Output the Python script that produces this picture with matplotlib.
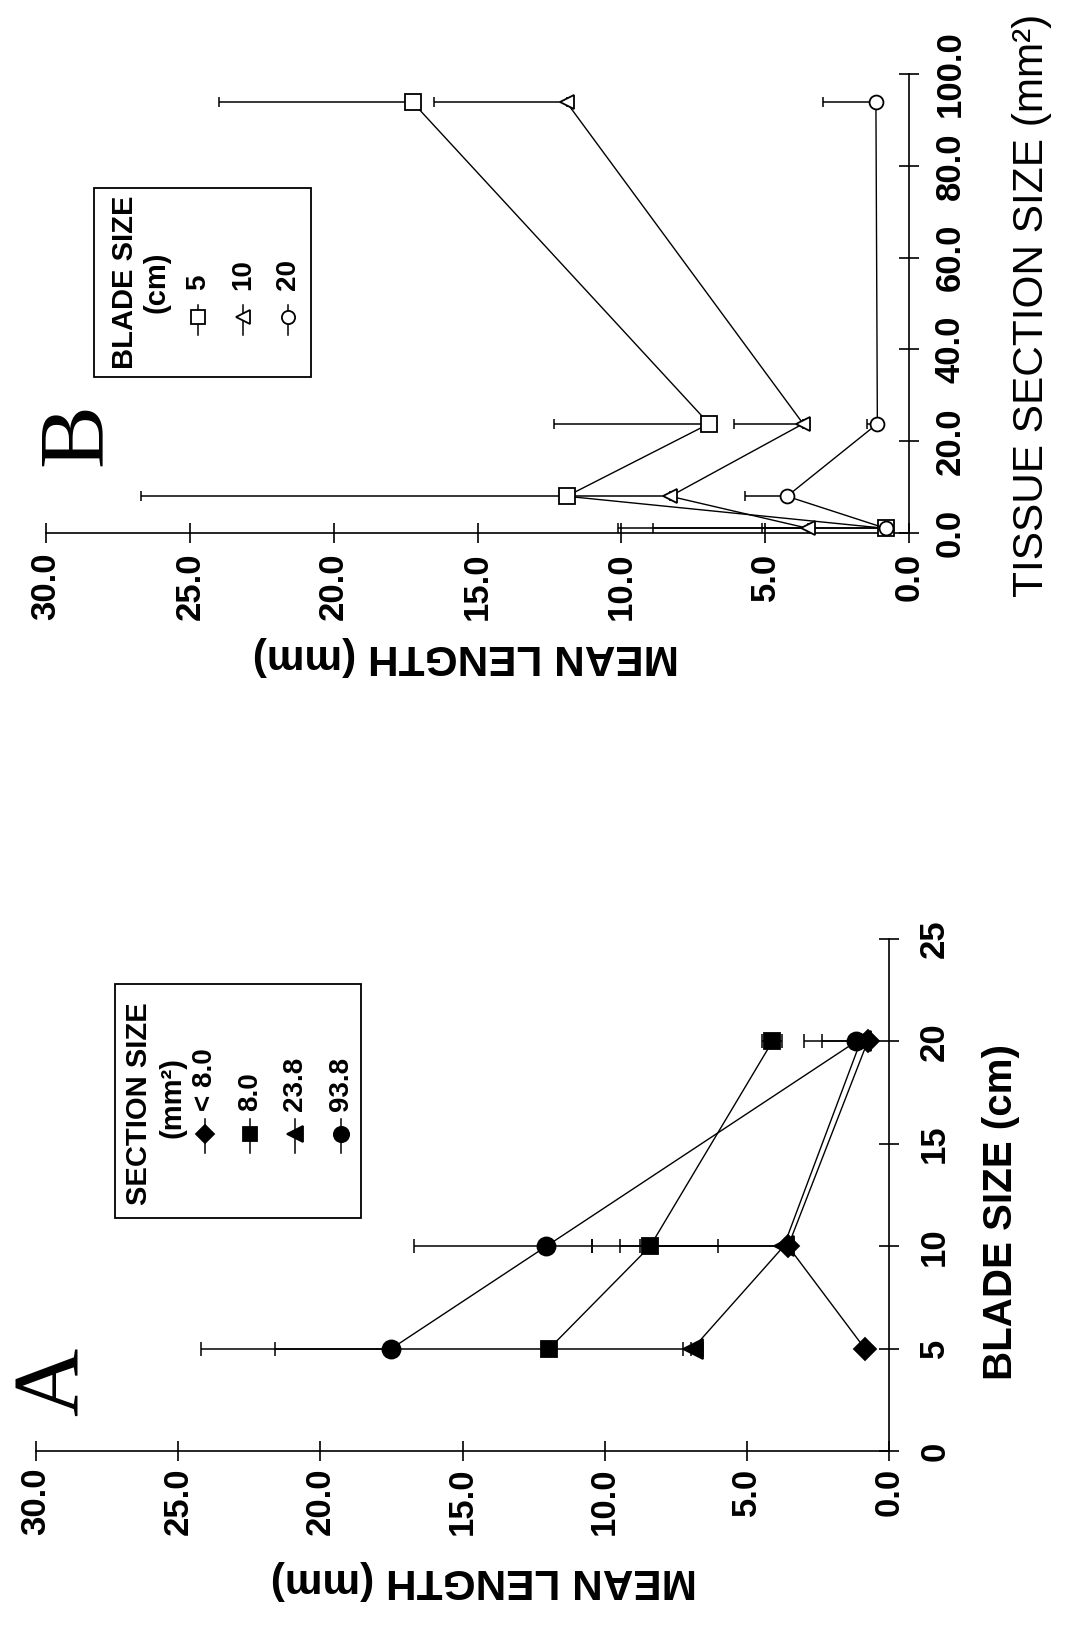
import numpy as np
import matplotlib.pyplot as plt
from matplotlib.lines import Line2D
from matplotlib.patches import Rectangle

plt.rcParams['font.family'] = ['Liberation Sans', 'DejaVu Sans']

W, H = 1067, 1625

# --- panel A: mean length vs blade size, one series per section size (mm2)
blade_size = [5, 10, 20]
sec_lt8 = [0.85, 3.55, 0.75]
sec_lt8_lo = [0, 0, 0]
sec_lt8_hi = [0, 5.2, 0]
sec_8 = [11.95, 8.4, 4.1]
sec_8_lo = [5.0, 2.4, 0.35]
sec_8_hi = [9.65, 2.05, 0.35]
sec_23 = [6.9, 3.7, 1.0]
sec_23_lo = [0.35, 0, 0]
sec_23_hi = [0.35, 5.76, 1.35]
sec_93 = [17.5, 12.05, 1.15]
sec_93_lo = [0, 1.6, 0]
sec_93_hi = [6.7, 4.65, 1.85]
sec_labels = ['< 8.0', '8.0', '23.8', '93.8']

# --- panel B: mean length vs tissue section size, one series per blade size (cm)
tissue_size = [1.0, 8.0, 23.8, 93.8]
bl_5 = [0.8, 11.9, 6.95, 17.25]
bl_5_hi = [9.3, 14.8, 5.4, 6.75]
bl_10 = [3.5, 8.3, 3.68, 11.9]
bl_10_hi = [5.4, 3.6, 2.4, 4.6]
bl_20 = [0.8, 4.24, 1.1, 1.15]
bl_20_hi = [4.3, 1.45, 0.35, 1.85]
bl_labels = ['5', '10', '20']

ml_ticks = [30, 25, 20, 15, 10, 5, 0]
blade_ticks = [0, 5, 10, 15, 20, 25]
tissue_ticks = [0, 20, 40, 60, 80, 100]


def fx(px):
    return px / W


def fy(py):
    return 1 - py / H


def setup_axes(ax, ylim, yticks, ylabels, xpad, ypad):
    # page is turned: mean length runs right->left, the other axis runs upward
    ax.set_xlim(30, 0)
    ax.set_ylim(*ylim)
    ax.spines['top'].set_visible(False)
    ax.spines['left'].set_visible(False)
    for s in ('bottom', 'right'):
        ax.spines[s].set_linewidth(1.2)
    ax.yaxis.tick_right()
    ax.set_xticks(ml_ticks)
    ax.set_xticklabels(['%.1f' % t for t in ml_ticks])
    ax.set_yticks(yticks)
    ax.set_yticklabels(ylabels)
    ax.tick_params(axis='both', direction='inout', length=14, width=1.2,
                   labelsize=25, labelrotation=90)
    ax.tick_params(axis='x', pad=xpad)
    ax.tick_params(axis='y', pad=ypad)
    for lab in ax.get_xticklabels() + ax.get_yticklabels():
        lab.set_fontweight('bold')
    for lab in ax.get_yticklabels():
        lab.set_va('center')
    ax.patch.set_alpha(0)


def series(ax, x, y, lo, hi, marker, ms, filled, capsize):
    ax.errorbar(x, y, xerr=[lo, hi], fmt='none', ecolor='k', elinewidth=1.1,
                capsize=capsize, capthick=1.1, zorder=2, clip_on=False)
    ax.plot(x, y, '-', color='k', lw=1.0, marker=marker, ms=ms,
            mfc='k' if filled else 'white', mec='k', mew=1.3,
            zorder=3, clip_on=False)


fig = plt.figure(figsize=(W / 100, H / 100), dpi=100)

# ---------------- panel A
axA = fig.add_axes([fx(36), fy(1451), (889 - 36) / W, (1451 - 939) / H])
setup_axes(axA, (0, 25), blade_ticks, [str(t) for t in blade_ticks], 5, 14)
series(axA, sec_lt8, blade_size, sec_lt8_lo, sec_lt8_hi, 'D', 11, True, 5)
series(axA, sec_8, blade_size, sec_8_lo, sec_8_hi, 's', 11.5, True, 5)
series(axA, sec_23, blade_size, sec_23_lo, sec_23_hi, '<', 14, True, 5)
series(axA, sec_93, blade_size, sec_93_lo, sec_93_hi, 'o', 13, True, 5)

# ---------------- panel B
axB = fig.add_axes([fx(46), fy(533), (909 - 46) / W, (533 - 74) / H])
setup_axes(axB, (0, 100), tissue_ticks, ['%.1f' % t for t in tissue_ticks], 7, 11)
zero4 = [0, 0, 0, 0]
series(axB, bl_5, tissue_size, zero4, bl_5_hi, 's', 11.5, False, 3.5)
series(axB, bl_10, tissue_size, zero4, bl_10_hi, '<', 10, False, 3.5)
series(axB, bl_20, tissue_size, zero4, bl_20_hi, 'o', 10, False, 3.5)

# ---------------- axis titles (turned with the page)
fig.text(fx(484), fy(1580), 'MEAN LENGTH (mm)', rotation=180, ha='center',
         va='center', fontsize=30.5, fontweight='bold')
fig.text(fx(466), fy(656), 'MEAN LENGTH (mm)', rotation=180, ha='center',
         va='center', fontsize=30.5, fontweight='bold')
fig.text(fx(1001), fy(1212), 'BLADE SIZE (cm)', rotation=90, ha='center',
         va='center', fontsize=29, fontweight='bold')
fig.text(fx(1032), fy(305), 'TISSUE SECTION SIZE (mm²)', rotation=90,
         ha='center', va='center', fontsize=30.5)

# panel letters
fig.text(fx(55), fy(1382), 'A', rotation=90, ha='center', va='center',
         fontsize=68, family=['Liberation Serif', 'DejaVu Serif'])
fig.text(fx(78), fy(435), 'B', rotation=90, ha='center', va='center',
         fontsize=68, family=['Liberation Serif', 'DejaVu Serif'])


def legend(box, titles, cols, mark_y, line_y, text_y, labels, markers, sizes,
           filled):
    x0, y0, x1, y1 = box
    fig.patches.append(Rectangle((fx(x0), fy(y1)), (x1 - x0) / W, (y1 - y0) / H,
                                 transform=fig.transFigure, fill=True,
                                 fc='white', ec='k', lw=1.3, zorder=5))
    for (tx, ty, txt) in titles:
        fig.text(fx(tx), fy(ty), txt, rotation=90, ha='center', va='center',
                 fontsize=21, fontweight='bold', zorder=6)
    for cx, lab, m, s in zip(cols, labels, markers, sizes):
        fig.lines.append(Line2D([fx(cx), fx(cx)], [fy(line_y[0]), fy(line_y[1])],
                                transform=fig.transFigure, color='k', lw=1.1,
                                zorder=6))
        fig.lines.append(Line2D([fx(cx)], [fy(mark_y)], transform=fig.transFigure,
                                marker=m, ms=s, mfc='k' if filled else 'white',
                                mec='k', mew=1.3, ls='none', zorder=7))
        fig.text(fx(cx), fy(text_y), lab, rotation=90, ha='center', va='bottom',
                 fontsize=20, fontweight='bold', zorder=6)


legend((115, 984, 361, 1218),
       [(139, 1104, 'SECTION SIZE'), (172, 1097, '(mm²)')],
       [205, 250, 295, 341], 1134, (1119, 1153), 1111,
       sec_labels, ['D', 's', '<', 'o'], [9, 10, 12, 11], True)

legend((94, 188, 311, 377),
       [(125, 282, 'BLADE SIZE'), (157, 282, '(cm)')],
       [198, 243, 288], 317, (305, 335), 290,
       bl_labels, ['s', '<', 'o'], [10, 9.5, 9.5], False)

fig.savefig('out.png', dpi=100, facecolor='white')
